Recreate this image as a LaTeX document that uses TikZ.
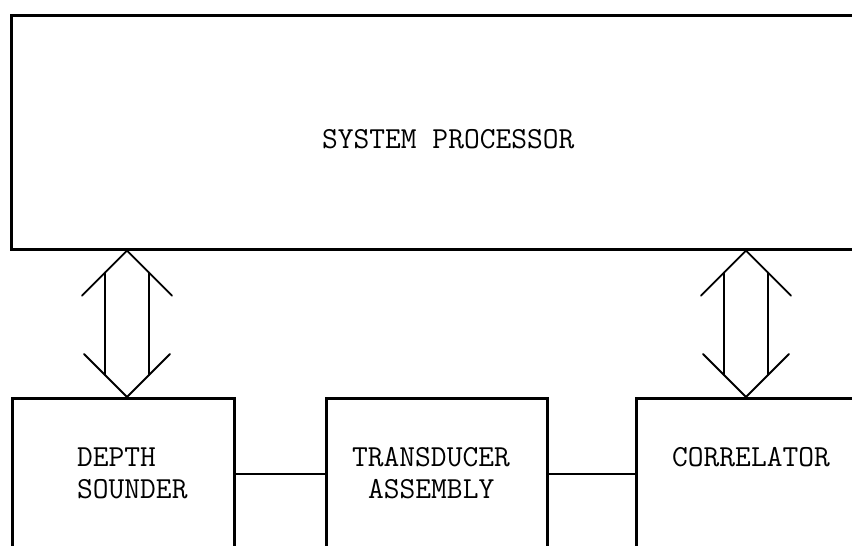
\documentclass[tikz,border=0pt]{standalone}
\usepackage{fontspec}
\usetikzlibrary{calc}
\tikzset{
  blk/.style={draw=black, line width=2.6pt, inner sep=0pt, anchor=north west},
  lbl/.style={font=\ttfamily\fontsize{30.6}{36}\selectfont, inner sep=0pt, anchor=base west},
  arr/.style={draw=black, line width=1.9pt, line cap=round, line join=miter},
  link/.style={draw=black, line width=2.2pt}
}
\begin{document}
\begin{tikzpicture}[x=1pt, y=-1pt]
\useasboundingbox (0,0) rectangle (852,546);
\clip (0,0) rectangle (852,546);
% boxes
\node[blk, minimum width=884pt, minimum height=234pt] (sp) at (10,14) {};
\node[blk, minimum width=222pt, minimum height=220pt] (ds) at (11,397) {};
\node[blk, minimum width=221pt, minimum height=220pt] (ta) at (325,397) {};
\node[blk, minimum width=230pt, minimum height=220pt] (co) at (635,397) {};
% labels
\node[lbl] (spt) at (322,148) {SYSTEM PROCESSOR};
\node[lbl] (dsa) at (77,466) {DEPTH};
\node[lbl] (dsb) at (77,498) {SOUNDER};
\node[lbl] (taa) at (352,466) {TRANSDUCER};
\node[lbl] (tab) at (368,498) {ASSEMBLY};
\node[lbl] (coa) at (672,466) {CORRELATOR};
% horizontal links
\coordinate (ly) at (0,474);
\draw[link] (ds.east |- ly) -- (ta.west |- ly);
\draw[link] (ta.east |- ly) -- (co.west |- ly);
% double arrows
\foreach \cx/\nm in {127/la, 746/ra}{
  \coordinate (\nm) at (\cx,0);
  \coordinate (\nm t) at (\nm |- sp.south);
  \coordinate (\nm b) at (\nm |- ds.north);
  \draw[arr] ($(\nm t)+(-45,45)$) -- (\nm t) -- ($(\nm t)+(45,45)$);
  \draw[arr] ($(\nm b)+(-43,-43)$) -- (\nm b) -- ($(\nm b)+(43,-43)$);
  \draw[arr] ($(\nm t)+(-22,22)$) -- ($(\nm b)+(-22,-22)$);
  \draw[arr] ($(\nm t)+(22,22)$) -- ($(\nm b)+(22,-22)$);
}
\end{tikzpicture}
\end{document}
